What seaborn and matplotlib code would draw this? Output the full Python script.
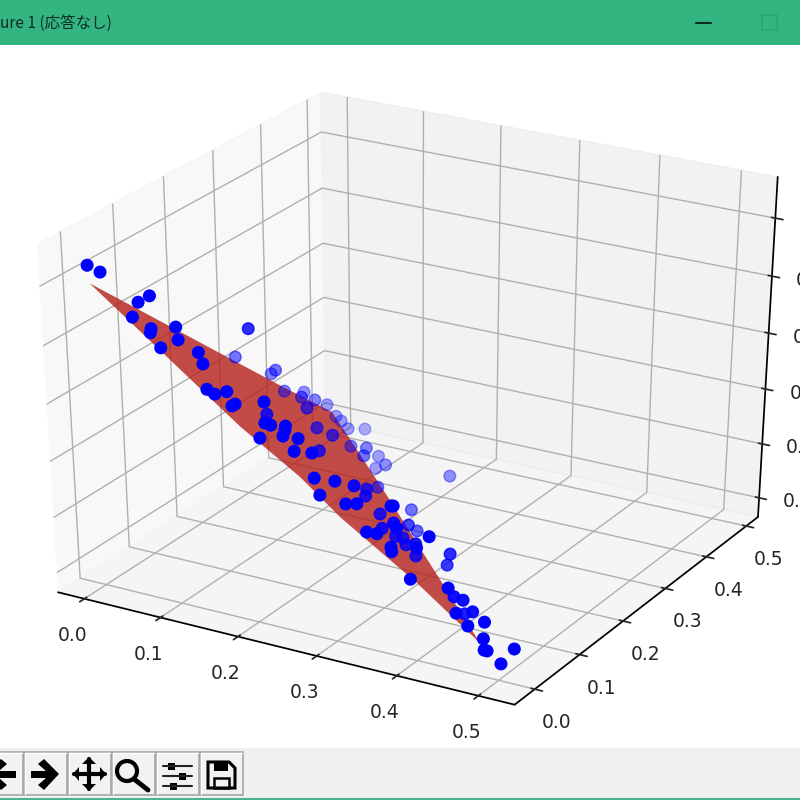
import numpy as np
import seaborn as sns
import matplotlib
matplotlib.use("Agg")
import matplotlib.pyplot as plt
from matplotlib.patches import Rectangle, Polygon, Circle
from mpl_toolkits.mplot3d import proj3d
from mpl_toolkits.mplot3d.art3d import Poly3DCollection

sns.set_theme(style="ticks", rc={"grid.color": "#b0b0b0", "axes.edgecolor": "black", "text.color": "#262626",
                                 "xtick.color": "#262626", "ytick.color": "#262626"})
plt.rcParams['font.family'] = ['DejaVu Sans']

# scattered samples
x = [-.008,.006,.060,.052,.052,.073,.074,.089,.095,.102,.125,.133,.096,-.025,.020,-.008,.012,.146,.155,.165,.177,.175,.203,.145,.211,.217,.231,.232,.232,.212,.247,.248,.007,.056,.046,.010,.113,.024,.031,.130,.148,.041,.033,.100,.116,.140,.083,.118,.085,.187,.186,.265,.276,.296,.295,.245,.166,.268,.287,.314,.324,.356,.358,.208,.288,.345,.369,.277,.316,.343,.353,.244,.402,.311,.298,.324,.353,.375,.371,.373,.337,.369,.350,.400,.438,.427,.437,.454,.424,.450,.483,.469,.488,.493,.496,.520,.513]
y = [.007,.010,.021,.011,-.001,.002,-.001,-.005,.016,.009,.012,.008,.157,.318,.332,.367,.363,-.006,-.005,.003,-.000,-.003,.016,.113,.004,.006,.013,.010,.006,-.008,.012,.002,.414,.329,.374,.460,.248,.457,.457,.241,.245,.456,.508,.364,.372,.326,.455,.412,.445,.442,.154,.010,-.004,.005,.046,.156,.313,.115,-.011,-.003,.003,.020,.021,.317,.112,.044,.009,.192,.069,-.009,-.005,.268,.021,.106,.144,.106,.077,.041,-.006,-.008,.105,.124,.151,-.015,-.001,.031,.033,-.012,.060,.031,-.002,-.013,-.013,-.020,-.019,-.003,-.019]
z = [.518,.509,.479,.471,.452,.437,.432,.413,.439,.423,.407,.392,.366,.199,.181,.148,.124,.360,.354,.357,.341,.339,.344,.254,.317,.314,.313,.308,.300,.298,.297,.281,.094,.144,.112,.047,.184,.031,.024,.157,.147,.013,-.018,.048,.045,.063,-.026,-.008,-.043,-.024,.180,.279,.247,.243,.212,.129,.020,.147,.225,.214,.214,.211,.211,-.011,.123,.164,.183,.054,.131,.178,.176,-.011,.172,.094,.065,.083,.111,.132,.159,.153,.068,.071,.029,.118,.107,.069,.065,.075,.020,.050,.063,.058,.042,.028,.027,.029,.010]

# outline of the fitted surface
surf_x = [.012,.002,-.006,.059,.182,.478,.397,.319,.262,.207]
surf_y = [-.019,.376,.497,.431,.308,-.002,.004,-.023,-.010,-.038]
surf_z = [.506,.122,.009,.011,.010,.024,.099,.204,.248,.332]

ticks = [0.0, 0.1, 0.2, 0.3, 0.4, 0.5]
xlim = (-0.035, 0.544)
ylim = (-0.044, 0.53)
zlim = (-0.036, 0.57)

fig = plt.figure(figsize=(8, 8), dpi=100)
ax = fig.add_axes([-0.03974, 0.10142, 1.08524, 0.80832], projection="3d")
ax.apply_aspect = lambda position=None: None  # the window stretches the cube, keep it non-square
box = np.array([1.1234, 1.1209, 1.1359])
ax.set_box_aspect(box, zoom=np.linalg.norm(box) / (1.8294640721620434 * 25 / 24))
ax.computed_zorder = False

surface = Poly3DCollection([list(zip(surf_x, surf_y, surf_z))], facecolor="#b5201a", edgecolor="none",
                           alpha=.8, zorder=1)
ax.add_collection3d(surface, autolim=False)
ax.scatter(x, y, z, color="blue", s=70, zorder=2)

ax.set_xticks(ticks); ax.set_yticks(ticks); ax.set_zticks(ticks)
ax.set_xticklabels([]); ax.set_yticklabels([]); ax.set_zticklabels([])
ax.set_xlim(*xlim, view_margin=0); ax.set_ylim(*ylim, view_margin=0); ax.set_zlim(*zlim, view_margin=0)
fig.canvas.draw()

# overlay in screen pixels for tick labels and the window frame
ov = fig.add_axes([0, 0, 1, 1], zorder=10)
ov.set_xlim(0, 800); ov.set_ylim(800, 0); ov.axis("off")

M = ax.get_proj()
def to_px(a, b, c):
    X, Y, _ = proj3d.proj_transform(a, b, c, M)
    d = ax.transData.transform((X, Y))
    return d[0], 800 - d[1]

for v in ticks:
    a, b = to_px(v, ylim[0], zlim[0])
    ov.text(a - 12, b + 37, f"{v:.1f}", fontsize=13.5, ha="center", va="center")
    a, b = to_px(xlim[1], v, zlim[0])
    ov.text(a + 22, b + 33.5, f"{v:.1f}", fontsize=13.5, ha="center", va="center")
    a, b = to_px(xlim[1], ylim[1], v)
    ov.text(a + 24, b + 4, f"{v:.1f}", fontsize=13.5, ha="left", va="center")

# title bar
ov.add_patch(Rectangle((0, 0), 800, 45, color="#33b581", lw=0))
ov.text(0, 23, "ure 1 (応答なし)", fontsize=11.2, family=["Noto Sans CJK JP", "DejaVu Sans"],
        color="#0f2d22", va="center", ha="left")
ov.plot([696, 711], [23, 23], color="#0f2a20", lw=1.5)
ov.add_patch(Rectangle((762, 15), 15, 15, fc="none", ec="#2fa577", lw=1.2))

# toolbar
ov.add_patch(Rectangle((0, 748), 800, 52, color="#f0f0f0", lw=0))
ov.add_patch(Rectangle((0, 798), 800, 2, color="#45b58a", lw=0))
for x0, x1 in [(-20, 23), (24, 67), (68, 111), (112, 155), (156, 199), (200, 243)]:
    ov.add_patch(Rectangle((x0, 752), x1 - x0, 43, fc="#f2f2f2", ec="#a6a6a6", lw=1.2))
    ov.plot([x0 + 1, x0 + 1, x1 - 1], [794, 753, 753], color="white", lw=1)
k = "black"
ov.add_patch(Polygon([(-14, 774), (1, 759), (7, 764), (-1, 771), (16, 771), (16, 778), (-1, 778), (7, 785), (1, 790)], color=k, lw=0))
ov.add_patch(Polygon([(59, 774), (44, 759), (38, 764), (46, 771), (31, 771), (31, 778), (46, 778), (38, 785), (44, 790)], color=k, lw=0))
ov.plot([74, 105], [774, 774], color=k, lw=3)
ov.plot([89, 89], [759, 789], color=k, lw=3)
for head in [[(73, 774), (79, 767), (79, 781)], [(106, 774), (100, 767), (100, 781)],
             [(89, 757), (82, 764), (96, 764)], [(89, 791), (82, 784), (96, 784)]]:
    ov.add_patch(Polygon(head, color=k, lw=0))
ov.add_patch(Circle((127, 771), 10, fc="none", ec=k, lw=3))
ov.plot([134, 148], [779, 790], color=k, lw=3.5)
for yy, xx in [(766, 171), (776, 182), (786, 173)]:
    ov.plot([163, 192], [yy, yy], color="#222222", lw=1.5)
    ov.add_patch(Rectangle((xx - 3.5, yy - 3.5), 7, 7, color=k, lw=0))
ov.add_patch(Polygon([(208, 762), (229, 762), (235, 768), (235, 788), (208, 788)], fc="none", ec=k, lw=2.2))
ov.add_patch(Rectangle((214, 762), 14, 9, color=k, lw=0))
ov.add_patch(Rectangle((214, 778), 15, 10, fc="none", ec=k, lw=1.8))

fig.savefig("out.png", dpi=100)
